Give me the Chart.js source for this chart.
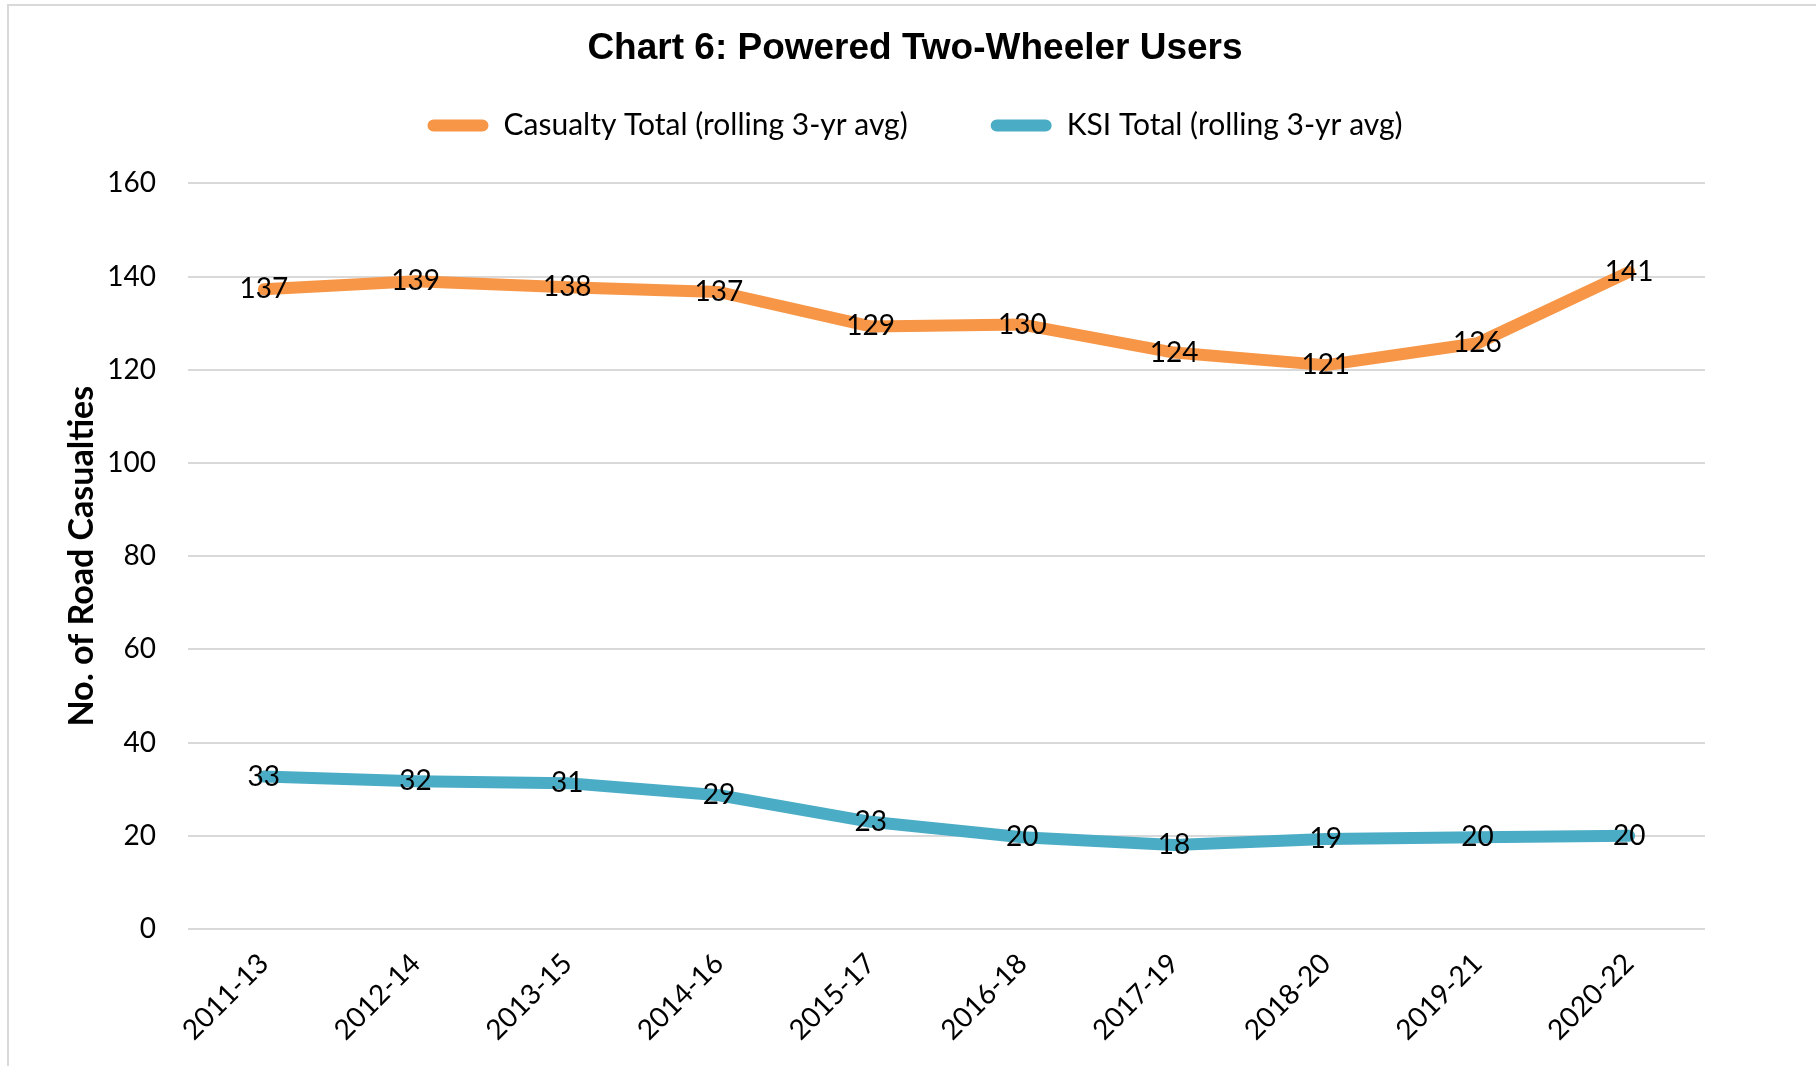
<!DOCTYPE html>
<html>
<head>
<meta charset="utf-8">
<script src="https://cdn.jsdelivr.net/npm/chart.js@4.4.0/dist/chart.umd.min.js"></script>
<style>
  html, body { margin: 0; padding: 0; background: #fff; }
  #wrap { position: relative; width: 1816px; height: 1066px; overflow: hidden; }
  #frame { position: absolute; left: 7px; top: 4px; width: 1900px; height: 1100px; border-left: 2px solid #d9d9d9; border-top: 2px solid #d9d9d9; }
  canvas { position: absolute; left: 0; top: 0; }
</style>
</head>
<body>
<div id="wrap">
  <div id="frame"></div>
  <canvas id="chart" width="1816" height="1066"></canvas>
</div>
<script>
'use strict'

const periods = [
  '2011-13', '2012-14', '2013-15', '2014-16', '2015-17',
  '2016-18', '2017-19', '2018-20', '2019-21', '2020-22',
]
const casualtyTotal = [137.3, 139.0, 137.7, 136.7, 129.3, 129.7, 123.7, 121.0, 125.7, 141.0]
const ksiTotal = [32.7, 31.7, 31.3, 28.7, 23.0, 19.7, 18.0, 19.3, 19.7, 20.0]
const yTicks = [0, 20, 40, 60, 80, 100, 120, 140, 160]

const orange = '#f79646'
const blue = '#4bacc6'
const font = 'Lato'

// value labels sitting on each point
const pointLabels = {
  id: 'pointLabels',
  afterDatasetsDraw(chart) {
    const { ctx } = chart
    ctx.save()
    ctx.font = `28px ${font}`
    ctx.fillStyle = '#000'
    ctx.textAlign = 'center'
    ctx.textBaseline = 'middle'
    chart.data.datasets.forEach((ds, i) => {
      chart.getDatasetMeta(i).data.forEach((pt, j) => {
        ctx.fillText(Math.round(ds.data[j]), pt.x, pt.y)
      })
    })
    ctx.restore()
  }
}

// extra room under the legend
const legendSpace = {
  id: 'legendSpace',
  beforeInit(chart) {
    const fit = chart.legend.fit
    chart.legend.fit = function () {
      fit.call(this)
      this.height += 33
    }
  }
}

const ctx = document.getElementById('chart')

const data = {
  labels: periods,
  datasets: [{
    label: 'Casualty Total (rolling 3-yr avg)',
    data: casualtyTotal,
    borderColor: orange,
    backgroundColor: orange,
  }, {
    label: 'KSI Total (rolling 3-yr avg)',
    data: ksiTotal,
    borderColor: blue,
    backgroundColor: blue,
  }]
}

const options = {
  responsive: false,
  animation: false,
  devicePixelRatio: 1,
  layout: {
    padding: { left: 58, right: 44, top: 0, bottom: 9 }
  },
  elements: {
    line: { borderWidth: 12, tension: 0, borderJoinStyle: 'round', borderCapStyle: 'round' },
    point: { radius: 0, hoverRadius: 0 }
  },
  plugins: {
    title: {
      display: true,
      text: 'Chart 6: Powered Two-Wheeler Users',
      color: '#000',
      font: { family: 'Liberation Sans', size: 37, weight: 'bold', lineHeight: 1.2 },
      padding: { top: 27, bottom: -44 }
    },
    legend: {
      display: true,
      labels: {
        color: '#000',
        font: { family: font, size: 30 },
        boxWidth: 61,
        boxHeight: 12,
        useBorderRadius: true,
        borderRadius: 6,
        padding: 83,
        generateLabels: (chart) =>
          Chart.defaults.plugins.legend.labels.generateLabels(chart).map(l => ({ ...l, lineWidth: 0 }))
      }
    },
    tooltip: { enabled: false }
  },
  scales: {
    x: {
      offset: true,
      grid: { display: false },
      border: { display: false },
      ticks: {
        color: '#000',
        font: { family: font, size: 28 },
        maxRotation: 45,
        minRotation: 45,
        padding: 10
      }
    },
    y: {
      min: 0,
      max: 160,
      afterBuildTicks: (axis) => { axis.ticks = yTicks.map(v => ({ value: v })) },
      afterFit: (axis) => { axis.width = 130 },
      grid: { color: '#d9d9d9', lineWidth: 2, drawTicks: false },
      border: { display: false },
      ticks: {
        color: '#000',
        font: { family: font, size: 28 },
        padding: 32
      },
      title: {
        display: true,
        text: 'No. of Road Casualties',
        color: '#000',
        font: { family: font, size: 34, weight: 'bold', lineHeight: 1.2 },
        padding: { top: 4, bottom: 4 }
      }
    },
    // empty right-hand margin
    yRight: {
      position: 'right',
      grid: { display: false },
      border: { display: false },
      ticks: { display: false },
      afterFit: (axis) => { axis.width = 67 }
    }
  }
}

const chart = new Chart(ctx, {
  type: 'line',
  data: data,
  options: options,
  plugins: [pointLabels, legendSpace]
})
</script>
</body>
</html>
